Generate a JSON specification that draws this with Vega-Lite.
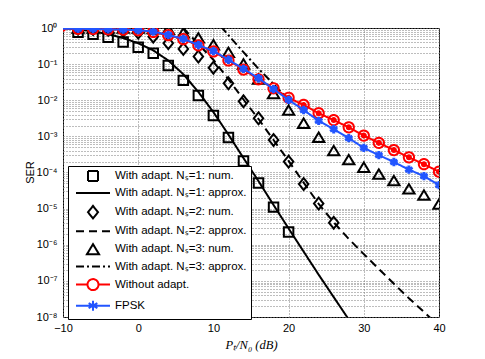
{
  "$schema": "https://vega.github.io/schema/vega-lite/v6.json",
  "width": 376,
  "height": 289,
  "autosize": {"type": "none"},
  "padding": {"left": 63, "top": 28, "right": 46, "bottom": 42},
  "background": "white",
  "config": {
    "view": {"stroke": "#000", "strokeWidth": 1},
    "font": "Liberation Sans",
    "axis": {"labelFont": "Liberation Sans", "labelFontSize": 11, "labelColor": "#000", "titleColor": "#000", "domain": false, "ticks": false, "labelFlush": false, "gridColor": "#7a7a7a", "gridDash": [1, 2], "gridWidth": 1},
    "legend": {
      "orient": "none", "legendX": 5, "legendY": 138,
      "strokeColor": "#000", "fillColor": "#fff", "padding": 4,
      "rowPadding": 2.1, "symbolOffset": 15, "labelOffset": 16,
      "labelFont": "Liberation Sans", "labelFontSize": 11.5, "labelColor": "#000",
      "labelLimit": 300, "symbolStrokeWidth": 2, "symbolSize": 100, "symbolFillColor": "transparent"
    }
  },
  "datasets": {
    "lines": [
      {"s": "With adapt. Nₛ=1: approx.", "x": -10, "y": 0.977},
      {"s": "With adapt. Nₛ=1: approx.", "x": -8, "y": 0.912},
      {"s": "With adapt. Nₛ=1: approx.", "x": -6, "y": 0.813},
      {"s": "With adapt. Nₛ=1: approx.", "x": -4, "y": 0.676},
      {"s": "With adapt. Nₛ=1: approx.", "x": -2, "y": 0.525},
      {"s": "With adapt. Nₛ=1: approx.", "x": 0, "y": 0.38},
      {"s": "With adapt. Nₛ=1: approx.", "x": 2, "y": 0.24},
      {"s": "With adapt. Nₛ=1: approx.", "x": 4, "y": 0.126},
      {"s": "With adapt. Nₛ=1: approx.", "x": 6, "y": 0.0525},
      {"s": "With adapt. Nₛ=1: approx.", "x": 8, "y": 0.017},
      {"s": "With adapt. Nₛ=1: approx.", "x": 10, "y": 0.00468},
      {"s": "With adapt. Nₛ=1: approx.", "x": 12, "y": 0.00112},
      {"s": "With adapt. Nₛ=1: approx.", "x": 14, "y": 2.51e-4},
      {"s": "With adapt. Nₛ=1: approx.", "x": 16, "y": 5.75e-5},
      {"s": "With adapt. Nₛ=1: approx.", "x": 18, "y": 1.26e-5},
      {"s": "With adapt. Nₛ=1: approx.", "x": 20, "y": 2.82e-6},
      {"s": "With adapt. Nₛ=1: approx.", "x": 22, "y": 6.46e-7},
      {"s": "With adapt. Nₛ=1: approx.", "x": 24, "y": 1.48e-7},
      {"s": "With adapt. Nₛ=1: approx.", "x": 26, "y": 3.55e-8},
      {"s": "With adapt. Nₛ=1: approx.", "x": 28, "y": 8.51e-9},
      {"s": "With adapt. Nₛ=2: approx.", "x": 6, "y": 1.0},
      {"s": "With adapt. Nₛ=2: approx.", "x": 8, "y": 0.355},
      {"s": "With adapt. Nₛ=2: approx.", "x": 10, "y": 0.132},
      {"s": "With adapt. Nₛ=2: approx.", "x": 12, "y": 0.038},
      {"s": "With adapt. Nₛ=2: approx.", "x": 14, "y": 0.0105},
      {"s": "With adapt. Nₛ=2: approx.", "x": 16, "y": 0.00302},
      {"s": "With adapt. Nₛ=2: approx.", "x": 18, "y": 7.94e-4},
      {"s": "With adapt. Nₛ=2: approx.", "x": 20, "y": 2.09e-4},
      {"s": "With adapt. Nₛ=2: approx.", "x": 22, "y": 5.25e-5},
      {"s": "With adapt. Nₛ=2: approx.", "x": 24, "y": 1.35e-5},
      {"s": "With adapt. Nₛ=2: approx.", "x": 26, "y": 4.17e-6},
      {"s": "With adapt. Nₛ=2: approx.", "x": 28, "y": 1.45e-6},
      {"s": "With adapt. Nₛ=2: approx.", "x": 30, "y": 5.5e-7},
      {"s": "With adapt. Nₛ=2: approx.", "x": 32, "y": 2.14e-7},
      {"s": "With adapt. Nₛ=2: approx.", "x": 34, "y": 8.32e-8},
      {"s": "With adapt. Nₛ=2: approx.", "x": 36, "y": 3.31e-8},
      {"s": "With adapt. Nₛ=2: approx.", "x": 38, "y": 1.38e-8},
      {"s": "With adapt. Nₛ=2: approx.", "x": 40, "y": 5.62e-9},
      {"s": "With adapt. Nₛ=3: approx.", "x": 11, "y": 1.1},
      {"s": "With adapt. Nₛ=3: approx.", "x": 12, "y": 0.631},
      {"s": "With adapt. Nₛ=3: approx.", "x": 14, "y": 0.214},
      {"s": "With adapt. Nₛ=3: approx.", "x": 16, "y": 0.0741},
      {"s": "With adapt. Nₛ=3: approx.", "x": 18, "y": 0.0282},
      {"s": "With adapt. Nₛ=3: approx.", "x": 20, "y": 0.01},
      {"s": "Without adapt.", "x": -10, "y": 0.96},
      {"s": "Without adapt.", "x": -8, "y": 0.95},
      {"s": "Without adapt.", "x": -6, "y": 0.94},
      {"s": "Without adapt.", "x": -4, "y": 0.92},
      {"s": "Without adapt.", "x": -2, "y": 0.9},
      {"s": "Without adapt.", "x": 0, "y": 0.87},
      {"s": "Without adapt.", "x": 2, "y": 0.776},
      {"s": "Without adapt.", "x": 4, "y": 0.631},
      {"s": "Without adapt.", "x": 6, "y": 0.49},
      {"s": "Without adapt.", "x": 8, "y": 0.331},
      {"s": "Without adapt.", "x": 10, "y": 0.224},
      {"s": "Without adapt.", "x": 12, "y": 0.126},
      {"s": "Without adapt.", "x": 14, "y": 0.0708},
      {"s": "Without adapt.", "x": 16, "y": 0.038},
      {"s": "Without adapt.", "x": 18, "y": 0.0214},
      {"s": "Without adapt.", "x": 20, "y": 0.0117},
      {"s": "Without adapt.", "x": 22, "y": 0.00741},
      {"s": "Without adapt.", "x": 24, "y": 0.00437},
      {"s": "Without adapt.", "x": 26, "y": 0.00282},
      {"s": "Without adapt.", "x": 28, "y": 0.00178},
      {"s": "Without adapt.", "x": 30, "y": 0.00105},
      {"s": "Without adapt.", "x": 32, "y": 6.61e-4},
      {"s": "Without adapt.", "x": 34, "y": 4.17e-4},
      {"s": "Without adapt.", "x": 36, "y": 2.63e-4},
      {"s": "Without adapt.", "x": 38, "y": 1.7e-4},
      {"s": "Without adapt.", "x": 40, "y": 1.05e-4},
      {"s": "FPSK", "x": -10, "y": 0.96},
      {"s": "FPSK", "x": -8, "y": 0.95},
      {"s": "FPSK", "x": -6, "y": 0.94},
      {"s": "FPSK", "x": -4, "y": 0.92},
      {"s": "FPSK", "x": -2, "y": 0.9},
      {"s": "FPSK", "x": 0, "y": 0.87},
      {"s": "FPSK", "x": 2, "y": 0.794},
      {"s": "FPSK", "x": 4, "y": 0.646},
      {"s": "FPSK", "x": 6, "y": 0.501},
      {"s": "FPSK", "x": 8, "y": 0.339},
      {"s": "FPSK", "x": 10, "y": 0.229},
      {"s": "FPSK", "x": 12, "y": 0.132},
      {"s": "FPSK", "x": 14, "y": 0.0741},
      {"s": "FPSK", "x": 16, "y": 0.0407},
      {"s": "FPSK", "x": 18, "y": 0.0204},
      {"s": "FPSK", "x": 20, "y": 0.0102},
      {"s": "FPSK", "x": 22, "y": 0.00537},
      {"s": "FPSK", "x": 24, "y": 0.00269},
      {"s": "FPSK", "x": 26, "y": 0.00158},
      {"s": "FPSK", "x": 28, "y": 8.91e-4},
      {"s": "FPSK", "x": 30, "y": 4.79e-4},
      {"s": "FPSK", "x": 32, "y": 3.02e-4},
      {"s": "FPSK", "x": 34, "y": 1.95e-4},
      {"s": "FPSK", "x": 36, "y": 1.2e-4},
      {"s": "FPSK", "x": 38, "y": 7.94e-5},
      {"s": "FPSK", "x": 40, "y": 4.47e-5}
    ],
    "pts": [
      {"s": "With adapt. Nₛ=1: num.", "x": -8, "y": 0.759},
      {"s": "With adapt. Nₛ=1: num.", "x": -6, "y": 0.676},
      {"s": "With adapt. Nₛ=1: num.", "x": -4, "y": 0.55},
      {"s": "With adapt. Nₛ=1: num.", "x": -2, "y": 0.407},
      {"s": "With adapt. Nₛ=1: num.", "x": 0, "y": 0.295},
      {"s": "With adapt. Nₛ=1: num.", "x": 2, "y": 0.2},
      {"s": "With adapt. Nₛ=1: num.", "x": 4, "y": 0.0912},
      {"s": "With adapt. Nₛ=1: num.", "x": 6, "y": 0.0355},
      {"s": "With adapt. Nₛ=1: num.", "x": 8, "y": 0.0135},
      {"s": "With adapt. Nₛ=1: num.", "x": 10, "y": 0.0038},
      {"s": "With adapt. Nₛ=1: num.", "x": 12, "y": 9.33e-4},
      {"s": "With adapt. Nₛ=1: num.", "x": 14, "y": 2.09e-4},
      {"s": "With adapt. Nₛ=1: num.", "x": 16, "y": 5.13e-5},
      {"s": "With adapt. Nₛ=1: num.", "x": 18, "y": 1.1e-5},
      {"s": "With adapt. Nₛ=1: num.", "x": 20, "y": 2.24e-6},
      {"s": "With adapt. Nₛ=2: num.", "x": -8, "y": 0.955},
      {"s": "With adapt. Nₛ=2: num.", "x": -6, "y": 0.933},
      {"s": "With adapt. Nₛ=2: num.", "x": -4, "y": 0.891},
      {"s": "With adapt. Nₛ=2: num.", "x": -2, "y": 0.832},
      {"s": "With adapt. Nₛ=2: num.", "x": 0, "y": 0.741},
      {"s": "With adapt. Nₛ=2: num.", "x": 2, "y": 0.575},
      {"s": "With adapt. Nₛ=2: num.", "x": 4, "y": 0.38},
      {"s": "With adapt. Nₛ=2: num.", "x": 6, "y": 0.263},
      {"s": "With adapt. Nₛ=2: num.", "x": 8, "y": 0.162},
      {"s": "With adapt. Nₛ=2: num.", "x": 10, "y": 0.0794},
      {"s": "With adapt. Nₛ=2: num.", "x": 12, "y": 0.0295},
      {"s": "With adapt. Nₛ=2: num.", "x": 14, "y": 0.00933},
      {"s": "With adapt. Nₛ=2: num.", "x": 16, "y": 0.00316},
      {"s": "With adapt. Nₛ=2: num.", "x": 18, "y": 7.94e-4},
      {"s": "With adapt. Nₛ=2: num.", "x": 20, "y": 2.0e-4},
      {"s": "With adapt. Nₛ=2: num.", "x": 22, "y": 4.79e-5},
      {"s": "With adapt. Nₛ=2: num.", "x": 24, "y": 1.38e-5},
      {"s": "With adapt. Nₛ=2: num.", "x": 26, "y": 4.07e-6},
      {"s": "With adapt. Nₛ=3: num.", "x": -8, "y": 0.977},
      {"s": "With adapt. Nₛ=3: num.", "x": -6, "y": 0.977},
      {"s": "With adapt. Nₛ=3: num.", "x": -4, "y": 0.977},
      {"s": "With adapt. Nₛ=3: num.", "x": -2, "y": 0.977},
      {"s": "With adapt. Nₛ=3: num.", "x": 0, "y": 0.977},
      {"s": "With adapt. Nₛ=3: num.", "x": 2, "y": 0.955},
      {"s": "With adapt. Nₛ=3: num.", "x": 4, "y": 0.912},
      {"s": "With adapt. Nₛ=3: num.", "x": 6, "y": 0.724},
      {"s": "With adapt. Nₛ=3: num.", "x": 8, "y": 0.525},
      {"s": "With adapt. Nₛ=3: num.", "x": 10, "y": 0.339},
      {"s": "With adapt. Nₛ=3: num.", "x": 12, "y": 0.209},
      {"s": "With adapt. Nₛ=3: num.", "x": 14, "y": 0.1},
      {"s": "With adapt. Nₛ=3: num.", "x": 16, "y": 0.038},
      {"s": "With adapt. Nₛ=3: num.", "x": 18, "y": 0.0151},
      {"s": "With adapt. Nₛ=3: num.", "x": 20, "y": 0.00525},
      {"s": "With adapt. Nₛ=3: num.", "x": 22, "y": 0.00229},
      {"s": "With adapt. Nₛ=3: num.", "x": 24, "y": 9.33e-4},
      {"s": "With adapt. Nₛ=3: num.", "x": 26, "y": 3.98e-4},
      {"s": "With adapt. Nₛ=3: num.", "x": 28, "y": 2.24e-4},
      {"s": "With adapt. Nₛ=3: num.", "x": 30, "y": 1.38e-4},
      {"s": "With adapt. Nₛ=3: num.", "x": 32, "y": 8.91e-5},
      {"s": "With adapt. Nₛ=3: num.", "x": 34, "y": 5.89e-5},
      {"s": "With adapt. Nₛ=3: num.", "x": 36, "y": 3.47e-5},
      {"s": "With adapt. Nₛ=3: num.", "x": 38, "y": 2.34e-5},
      {"s": "With adapt. Nₛ=3: num.", "x": 40, "y": 1.32e-5},
      {"s": "Without adapt. markers", "x": -8, "y": 0.95},
      {"s": "Without adapt. markers", "x": -6, "y": 0.94},
      {"s": "Without adapt. markers", "x": -4, "y": 0.92},
      {"s": "Without adapt. markers", "x": -2, "y": 0.9},
      {"s": "Without adapt. markers", "x": 0, "y": 0.87},
      {"s": "Without adapt. markers", "x": 2, "y": 0.776},
      {"s": "Without adapt. markers", "x": 4, "y": 0.631},
      {"s": "Without adapt. markers", "x": 6, "y": 0.49},
      {"s": "Without adapt. markers", "x": 8, "y": 0.331},
      {"s": "Without adapt. markers", "x": 10, "y": 0.224},
      {"s": "Without adapt. markers", "x": 12, "y": 0.126},
      {"s": "Without adapt. markers", "x": 14, "y": 0.0708},
      {"s": "Without adapt. markers", "x": 16, "y": 0.038},
      {"s": "Without adapt. markers", "x": 18, "y": 0.0214},
      {"s": "Without adapt. markers", "x": 20, "y": 0.0117},
      {"s": "Without adapt. markers", "x": 22, "y": 0.00741},
      {"s": "Without adapt. markers", "x": 24, "y": 0.00437},
      {"s": "Without adapt. markers", "x": 26, "y": 0.00282},
      {"s": "Without adapt. markers", "x": 28, "y": 0.00178},
      {"s": "Without adapt. markers", "x": 30, "y": 0.00105},
      {"s": "Without adapt. markers", "x": 32, "y": 6.61e-4},
      {"s": "Without adapt. markers", "x": 34, "y": 4.17e-4},
      {"s": "Without adapt. markers", "x": 36, "y": 2.63e-4},
      {"s": "Without adapt. markers", "x": 38, "y": 1.7e-4},
      {"s": "Without adapt. markers", "x": 40, "y": 1.05e-4},
      {"s": "FPSK markers", "x": -8, "y": 0.95},
      {"s": "FPSK markers", "x": -6, "y": 0.94},
      {"s": "FPSK markers", "x": -4, "y": 0.92},
      {"s": "FPSK markers", "x": -2, "y": 0.9},
      {"s": "FPSK markers", "x": 0, "y": 0.87},
      {"s": "FPSK markers", "x": 2, "y": 0.794},
      {"s": "FPSK markers", "x": 4, "y": 0.646},
      {"s": "FPSK markers", "x": 6, "y": 0.501},
      {"s": "FPSK markers", "x": 8, "y": 0.339},
      {"s": "FPSK markers", "x": 10, "y": 0.229},
      {"s": "FPSK markers", "x": 12, "y": 0.132},
      {"s": "FPSK markers", "x": 14, "y": 0.0741},
      {"s": "FPSK markers", "x": 16, "y": 0.0407},
      {"s": "FPSK markers", "x": 18, "y": 0.0204},
      {"s": "FPSK markers", "x": 20, "y": 0.0102},
      {"s": "FPSK markers", "x": 22, "y": 0.00537},
      {"s": "FPSK markers", "x": 24, "y": 0.00269},
      {"s": "FPSK markers", "x": 26, "y": 0.00158},
      {"s": "FPSK markers", "x": 28, "y": 8.91e-4},
      {"s": "FPSK markers", "x": 30, "y": 4.79e-4},
      {"s": "FPSK markers", "x": 32, "y": 3.02e-4},
      {"s": "FPSK markers", "x": 34, "y": 1.95e-4},
      {"s": "FPSK markers", "x": 36, "y": 1.2e-4},
      {"s": "FPSK markers", "x": 38, "y": 7.94e-5},
      {"s": "FPSK markers", "x": 40, "y": 4.47e-5}
    ]
  },
  "encoding": {
    "x": {
      "field": "x", "type": "quantitative",
      "scale": {"domain": [-10, 40], "nice": false, "zero": false},
      "axis": {"values": [-10, 0, 10, 20, 30, 40], "grid": true, "title": "Pₜ/N₀ (dB)", "titleFont": "Liberation Serif", "titleFontSize": 12.5, "titleFontWeight": "normal", "titleFontStyle": "italic", "labelPadding": 5, "titleY": 27, "titleBaseline": "middle", "labelExpr": "datum.value < 0 ? '−' + abs(datum.value) : '' + datum.value"}
    },
    "y": {
      "field": "y", "type": "quantitative",
      "scale": {"type": "log", "domain": [1e-8, 1], "nice": false},
      "axis": {
        "values": [1e-8, 2e-8, 3e-8, 4e-8, 5e-8, 6e-8, 7e-8, 8e-8, 9e-8, 1e-7, 2e-7, 3e-7, 4e-7, 5e-7, 6e-7, 7e-7, 8e-7, 9e-7, 1e-6, 2e-6, 3e-6, 4e-6, 5e-6, 6e-6, 7e-6, 8e-6, 9e-6, 1e-5, 2e-5, 3e-5, 4e-5, 5e-5, 6e-5, 7e-5, 8e-5, 9e-5, 1e-4, 2e-4, 3e-4, 4e-4, 5e-4, 6e-4, 7e-4, 8e-4, 9e-4, 0.001, 0.002, 0.003, 0.004, 0.005, 0.006, 0.007, 0.008, 0.009, 0.01, 0.02, 0.03, 0.04, 0.05, 0.06, 0.07, 0.08, 0.09, 0.1, 0.2, 0.3, 0.4, 0.5, 0.6, 0.7, 0.8, 0.9, 1],
        "grid": true, "labelOverlap": false, "labelBound": false, "labelPadding": 6,
        "labelExpr": "abs(log(datum.value)/LN10 - round(log(datum.value)/LN10)) < 0.001 ? '10' + (round(log(datum.value)/LN10) < 0 ? '⁻' : '') + ['⁰','¹','²','³','⁴','⁵','⁶','⁷','⁸','⁹'][abs(round(log(datum.value)/LN10))] : ''",
        "title": "SER", "titleFont": "Liberation Sans", "titleFontSize": 11, "titleFontWeight": "normal", "titleX": -33, "titleY": 144, "titleBaseline": "middle", "titleAlign": "center", "titleAngle": -90
      }
    },
    "color": {
      "field": "s", "type": "nominal",
      "scale": {
        "domain": ["With adapt. Nₛ=1: num.", "With adapt. Nₛ=1: approx.", "With adapt. Nₛ=2: num.", "With adapt. Nₛ=2: approx.", "With adapt. Nₛ=3: num.", "With adapt. Nₛ=3: approx.", "Without adapt.", "FPSK", "Without adapt. markers", "FPSK markers"],
        "range": ["#000", "#000", "#000", "#000", "#000", "#000", "#ff0000", "#2255ff", "#ff0000", "#2255ff"]
      },
      "legend": {"title": null, "values": ["With adapt. Nₛ=1: num.", "With adapt. Nₛ=1: approx.", "With adapt. Nₛ=2: num.", "With adapt. Nₛ=2: approx.", "With adapt. Nₛ=3: num.", "With adapt. Nₛ=3: approx.", "Without adapt.", "FPSK"], "encode": {"symbols": {"update": {"fill": {"value": "transparent"}, "fillOpacity": {"value": 0}}}}}
    },
    "shape": {
      "field": "s", "type": "nominal",
      "scale": {
        "domain": ["With adapt. Nₛ=1: num.", "With adapt. Nₛ=1: approx.", "With adapt. Nₛ=2: num.", "With adapt. Nₛ=2: approx.", "With adapt. Nₛ=3: num.", "With adapt. Nₛ=3: approx.", "Without adapt.", "FPSK", "Without adapt. markers", "FPSK markers"],
        "range": ["square", "M-3.4,0H3.4", "M0,-1.25L1,0L0,1.25L-1,0Z", "M-3.4,0H3.4", "M0,-1.05L1.2,0.95L-1.2,0.95Z", "M-3.4,0H3.4", "M-3.4,0H-1.1M1.1,0H3.4M1.1,0A1.1,1.1 0 1,1 -1.1,0A1.1,1.1 0 1,1 1.1,0", "M-3.4,0H3.4M0,-1V1M-0.87,-0.5L0.87,0.5M-0.87,0.5L0.87,-0.5", "circle", "M0,-1V1M-0.87,-0.5L0.87,0.5M-0.87,0.5L0.87,-0.5"]
      },
      "legend": {"title": null, "values": ["With adapt. Nₛ=1: num.", "With adapt. Nₛ=1: approx.", "With adapt. Nₛ=2: num.", "With adapt. Nₛ=2: approx.", "With adapt. Nₛ=3: num.", "With adapt. Nₛ=3: approx.", "Without adapt.", "FPSK"], "encode": {"symbols": {"update": {"fill": {"value": "transparent"}, "fillOpacity": {"value": 0}}}}}
    },
    "strokeDash": {
      "field": "s", "type": "nominal",
      "scale": {
        "domain": ["With adapt. Nₛ=1: num.", "With adapt. Nₛ=1: approx.", "With adapt. Nₛ=2: num.", "With adapt. Nₛ=2: approx.", "With adapt. Nₛ=3: num.", "With adapt. Nₛ=3: approx.", "Without adapt.", "FPSK", "Without adapt. markers", "FPSK markers"],
        "range": [[1, 0], [1, 0], [1, 0], [8, 5], [1, 0], [8, 3, 2, 3], [1, 0], [1, 0], [1, 0], [1, 0]]
      },
      "legend": {"title": null, "values": ["With adapt. Nₛ=1: num.", "With adapt. Nₛ=1: approx.", "With adapt. Nₛ=2: num.", "With adapt. Nₛ=2: approx.", "With adapt. Nₛ=3: num.", "With adapt. Nₛ=3: approx.", "Without adapt.", "FPSK"], "encode": {"symbols": {"update": {"fill": {"value": "transparent"}, "fillOpacity": {"value": 0}}}}}
    }
  },
  "layer": [
    {
      "data": {"name": "pts"},
      "transform": [{"filter": {"field": "s", "oneOf": ["With adapt. Nₛ=1: num.", "With adapt. Nₛ=2: num.", "With adapt. Nₛ=3: num."]}}],
      "mark": {"type": "point", "filled": false, "strokeWidth": 2, "size": 90, "clip": true, "opacity": 1}
    },
    {
      "data": {"name": "lines"},
      "transform": [{"filter": {"field": "s", "oneOf": ["With adapt. Nₛ=1: approx.", "With adapt. Nₛ=2: approx.", "With adapt. Nₛ=3: approx."]}}],
      "mark": {"type": "line", "strokeWidth": 2, "clip": true}
    },
    {
      "data": {"name": "lines"},
      "transform": [{"filter": {"field": "s", "equal": "Without adapt."}}],
      "mark": {"type": "line", "strokeWidth": 2, "clip": true}
    },
    {
      "data": {"name": "pts"},
      "transform": [{"filter": {"field": "s", "equal": "Without adapt. markers"}}],
      "mark": {"type": "point", "filled": false, "strokeWidth": 2, "size": 105, "clip": true, "opacity": 1}
    },
    {
      "data": {"name": "lines"},
      "transform": [{"filter": {"field": "s", "equal": "FPSK"}}],
      "mark": {"type": "line", "strokeWidth": 2, "clip": true}
    },
    {
      "data": {"name": "pts"},
      "transform": [{"filter": {"field": "s", "equal": "FPSK markers"}}],
      "mark": {"type": "point", "filled": false, "strokeWidth": 3, "size": 70, "clip": true, "opacity": 1}
    }
  ]
}
